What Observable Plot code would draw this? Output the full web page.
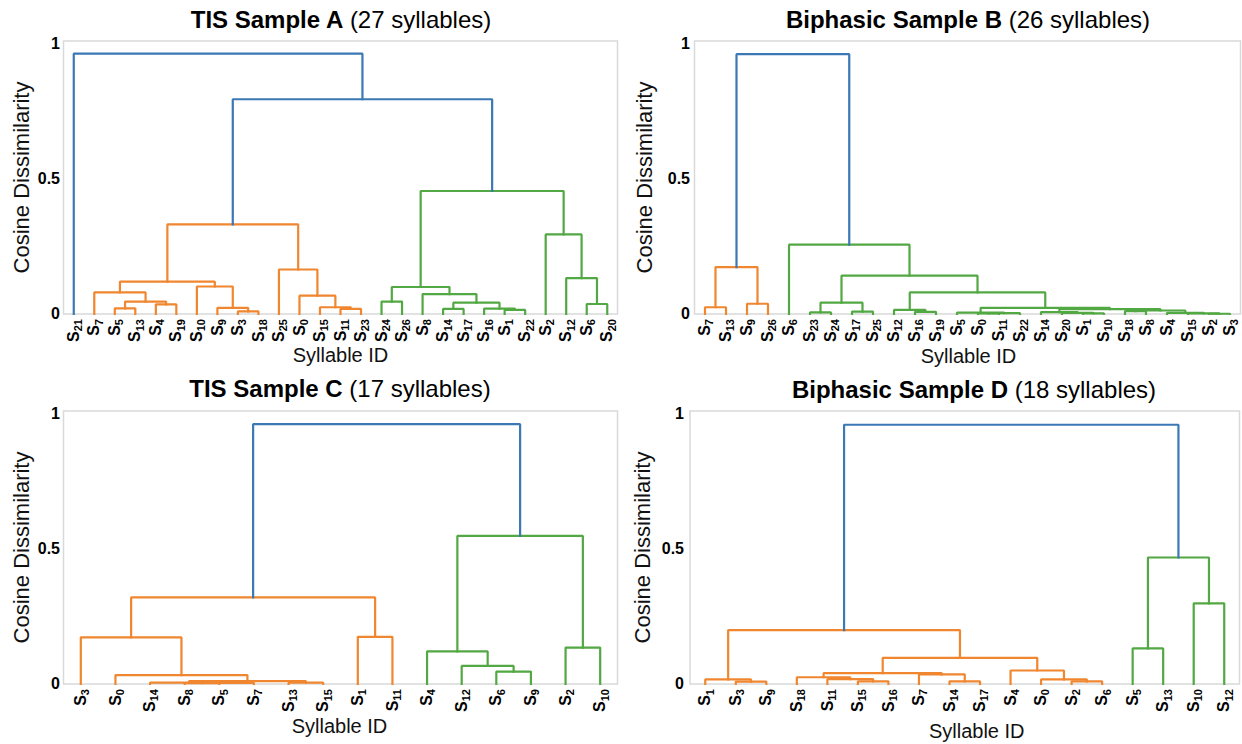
<!DOCTYPE html>
<html><head><meta charset="utf-8">
<script src="https://cdn.jsdelivr.net/npm/d3@7"></script>
<script src="https://cdn.jsdelivr.net/npm/@observablehq/plot@0.6"></script>
<style>
body{margin:0;background:#fff;font-family:"Liberation Sans",Arial,sans-serif;}
#root{position:relative;width:1242px;height:744px;overflow:hidden;background:#fff;}
.plot{position:absolute;}
.title{position:absolute;font-size:24px;line-height:28px;white-space:nowrap;transform:translateX(-50%);color:#000;}
.title b{font-weight:bold;}
</style></head><body><div id="root"></div>
<script>
// ---------- data ----------
// leaves: syllable ids in display order; merges: [childA, childB, height, cluster]
// child index < n is a leaf, >= n refers to merge (index - n)
const leavesA = ["21","7","5","13","4","19","10","9","3","18","25","0","15","11","23","24","26","8","14","17","16","1","22","2","12","6","20"];
const mergesA = [
  [2,3,0.021,"o"],[4,5,0.036,"o"],[27,28,0.046,"o"],[1,29,0.080,"o"],
  [8,9,0.010,"o"],[7,31,0.023,"o"],[6,32,0.102,"o"],[30,33,0.120,"o"],
  [13,14,0.019,"o"],[12,35,0.025,"o"],[11,36,0.068,"o"],[10,37,0.165,"o"],
  [34,38,0.332,"o"],
  [15,16,0.046,"g"],[18,19,0.019,"g"],[21,22,0.015,"g"],[20,42,0.020,"g"],
  [41,43,0.042,"g"],[17,44,0.074,"g"],[40,45,0.100,"g"],[25,26,0.037,"g"],
  [24,47,0.133,"g"],[23,48,0.295,"g"],[46,49,0.456,"g"],
  [39,50,0.796,"b"],[0,51,0.965,"b"]
];

const leavesB = ["7","13","9","26","6","23","24","17","25","12","16","19","5","0","11","22","14","20","1","10","18","8","4","15","2","3"];
const mergesB = [
  [0,1,0.025,"o"],[2,3,0.038,"o"],[26,27,0.174,"o"],
  [5,6,0.006,"g"],[7,8,0.009,"g"],[29,30,0.042,"g"],
  [10,11,0.008,"g"],[9,32,0.015,"g"],
  [13,14,0.002,"g"],[34,15,0.003,"g"],[12,35,0.005,"g"],
  [18,19,0.002,"g"],[17,37,0.004,"g"],[16,38,0.007,"g"],
  [20,21,0.011,"g"],[24,25,0.001,"g"],[23,41,0.002,"g"],[22,42,0.004,"g"],
  [40,43,0.013,"g"],[39,44,0.018,"g"],[36,45,0.023,"g"],
  [33,46,0.080,"g"],[31,47,0.142,"g"],[4,48,0.257,"g"],
  [28,49,0.963,"b"]
];

const leavesC = ["3","0","14","8","5","7","13","15","1","11","4","12","6","9","2","10"];
const mergesC = [
  [3,4,0.003,"o"],[16,5,0.004,"o"],[2,17,0.005,"o"],[6,7,0.005,"o"],
  [18,19,0.011,"o"],[1,20,0.033,"o"],[0,21,0.173,"o"],[8,9,0.175,"o"],
  [22,23,0.321,"o"],
  [12,13,0.046,"g"],[11,25,0.067,"g"],[10,26,0.121,"g"],[14,15,0.135,"g"],
  [27,28,0.549,"g"],
  [24,29,0.963,"b"]
];

const leavesD = ["1","3","9","18","11","15","16","7","14","17","4","0","2","6","5","13","10","12"];
const mergesD = [
  [1,2,0.009,"o"],[0,18,0.017,"o"],
  [5,6,0.010,"o"],[4,20,0.018,"o"],[3,21,0.025,"o"],
  [8,9,0.010,"o"],[7,23,0.036,"o"],[22,24,0.040,"o"],
  [12,13,0.010,"o"],[11,26,0.017,"o"],[10,27,0.050,"o"],
  [25,28,0.097,"o"],[19,29,0.200,"o"],
  [14,15,0.132,"g"],[16,17,0.299,"g"],[31,32,0.469,"g"],
  [30,33,0.961,"b"]
];

const titles = [
  ["TIS Sample A", " (27 syllables)"],
  ["Biphasic Sample B", " (26 syllables)"],
  ["TIS Sample C", " (17 syllables)"],
  ["Biphasic Sample D", " (18 syllables)"]
];
const yTicks = [0, 0.5, 1];
const clusterColors = {b: "#3b78b5", o: "#f0862f", g: "#52a843"};

// ---------- layout ----------
const panels = [
  {leaves: leavesA, merges: mergesA, left: 0,   top: 0,   width: 620, ml: 63,   mr: 3, ypad: 3.5, ylx: -42,   xlx: 0,  xly: 41.5, tx: 341, ttop: 5.5},
  {leaves: leavesB, merges: mergesB, left: 620, top: 0,   width: 622, ml: 74,   mr: 2, ypad: 4.5, ylx: -50,   xlx: 1,  xly: 43,   tx: 968, ttop: 5.5},
  {leaves: leavesC, merges: mergesC, left: 0,   top: 370, width: 620, ml: 63,   mr: 3, ypad: 3.5, ylx: -42,   xlx: -1, xly: 43,   tx: 340, ttop: 374.5},
  {leaves: leavesD, merges: mergesD, left: 620, top: 370, width: 622, ml: 69.5, mr: 3, ypad: 6,   ylx: -47.5, xlx: 12, xly: 48,   tx: 974, ttop: 375.5}
];

function buildLinks(leaves, merges) {
  const n = leaves.length;
  const xs = leaves.map((_, i) => 10 * i + 5);
  const hs = leaves.map(() => 0);
  const pts = [];
  merges.forEach(([a, b, h, c], k) => {
    const col = clusterColors[c];
    pts.push({x: xs[a], y: hs[a], k, col}, {x: xs[a], y: h, k, col},
             {x: xs[b], y: h, k, col}, {x: xs[b], y: hs[b], k, col});
    xs[n + k] = (xs[a] + xs[b]) / 2;
    hs[n + k] = h;
  });
  return pts;
}

const root = document.getElementById("root");
const NS = "http://www.w3.org/2000/svg";

panels.forEach((p, idx) => {
  const n = p.leaves.length;
  const pts = buildLinks(p.leaves, p.merges);
  const leafPos = p.leaves.map((_, i) => 10 * i + 5);
  const chart = Plot.plot({
    width: p.width, height: 372,
    marginLeft: p.ml, marginRight: p.mr, marginTop: 40.5, marginBottom: 58.5,
    style: {fontFamily: "'Liberation Sans', Arial, sans-serif", background: "transparent", overflow: "visible"},
    x: {domain: [0, 10 * n]},
    y: {domain: [0, 1.012]},
    color: {type: "identity"},
    marks: [
      Plot.frame({stroke: "#d9d9d9", strokeWidth: 1.5}),
      Plot.line(pts, {x: "x", y: "y", z: "k", stroke: "col", strokeWidth: 2.2, strokeLinejoin: "miter", strokeLinecap: "square"}),
      Plot.axisX(leafPos, {tickSize: 0, tickPadding: 5, tickRotate: -90, fontSize: 16, fontWeight: "bold",
        tickFormat: d => "S" + p.leaves[(d - 5) / 10], label: null, fill: "#000"}),
      Plot.axisY(yTicks, {tickSize: 0, tickPadding: p.ypad, fontSize: 16, fontWeight: "bold",
        tickFormat: d => String(d), label: null, fill: "#000"}),
      Plot.text(["Syllable ID"], {text: d => d, frameAnchor: "bottom", textAnchor: "middle", lineAnchor: "middle",
        dy: p.xly, dx: p.xlx, fontSize: 20, fill: "#111"}),
      Plot.text(["Cosine Dissimilarity"], {text: d => d, frameAnchor: "left", textAnchor: "middle", lineAnchor: "middle",
        rotate: -90, dx: p.ylx, fontSize: 22, fill: "#111"})
    ]
  });
  chart.classList.add("plot");
  chart.style.left = p.left + "px";
  chart.style.top = p.top + "px";
  // subscripts on syllable ids
  chart.querySelectorAll('g[aria-label="x-axis tick label"] text').forEach(t => {
    const s = t.textContent;
    t.textContent = "";
    const a = document.createElementNS(NS, "tspan");
    a.textContent = s.slice(0, 1);
    const b = document.createElementNS(NS, "tspan");
    b.textContent = s.slice(1);
    b.setAttribute("font-size", "11px");
    b.setAttribute("dy", "0.3em");
    t.append(a, b);
  });
  root.appendChild(chart);

  const t = document.createElement("div");
  t.className = "title";
  t.style.left = p.tx + "px";
  t.style.top = p.ttop + "px";
  const bEl = document.createElement("b");
  bEl.textContent = titles[idx][0];
  t.appendChild(bEl);
  t.appendChild(document.createTextNode(titles[idx][1]));
  root.appendChild(t);
});
</script></body></html>
